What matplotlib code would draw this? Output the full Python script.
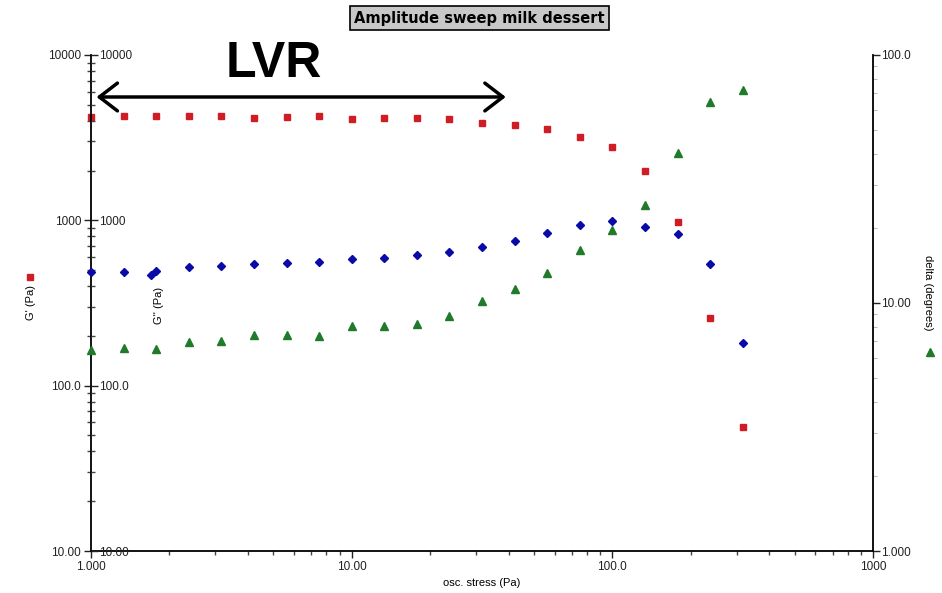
import matplotlib
matplotlib.use("Agg")
import matplotlib.pyplot as plt
from matplotlib.ticker import FuncFormatter, LogLocator, NullFormatter

plt.rcParams['font.family'] = ['Liberation Sans', 'DejaVu Sans']

# osc. stress (Pa)
stress = [1.000, 1.334, 1.778, 2.371, 3.162, 4.217, 5.623, 7.499, 10.00, 13.34, 17.78,
          23.71, 31.62, 42.17, 56.23, 74.99, 100.0, 133.4, 177.8, 237.1, 316.2]
# G' (Pa)
g_storage = [4236, 4295, 4295, 4295, 4295, 4140, 4236, 4295, 4083, 4140, 4140,
             4083, 3892, 3771, 3580, 3200, 2776, 1987, 977, 255, 56.4]
# G'' (Pa)
g_loss = [485, 489, 496, 520, 529, 546, 554, 562, 581, 592, 620,
          640, 694, 752, 841, 940, 986, 911, 826, 544, 181]
# delta (degrees)
delta = [6.46, 6.57, 6.53, 6.94, 7.03, 7.41, 7.41, 7.38, 8.08, 8.05, 8.22,
         8.86, 10.19, 11.37, 13.17, 16.31, 19.74, 24.8, 40.4, 64.8, 72.4]

RED = '#d01c24'
BLUE = '#0a0aa8'
GREEN = '#1f7a2a'
TICK_FS = 8.5


def four_digits(v, pos=None):
    if v < 9.999:
        return f"{v:.3f}"
    if v < 99.99:
        return f"{v:.2f}"
    if v < 999.9:
        return f"{v:.1f}"
    return f"{v:.0f}"


fig = plt.figure(figsize=(9.42, 5.93), dpi=100)
ax1 = fig.add_axes([0.0966, 0.0708, 0.8302, 0.8365])
ax2 = ax1.twinx()   # delta on the right
ax3 = ax1.twinx()   # G'' sharing the left spine

for ax in (ax1, ax2, ax3):
    ax.set_xscale('log')
    ax.set_yscale('log')
    ax.set_xlim(1, 1000)
    ax.spines['top'].set_visible(False)

ax1.set_ylim(10, 10000)
ax3.set_ylim(10, 10000)
ax2.set_ylim(1, 100)

ax1.spines['right'].set_visible(False)
ax3.spines['right'].set_position(('axes', 0))
ax3.spines['right'].set_visible(False)
ax3.spines['left'].set_visible(False)
ax3.spines['bottom'].set_visible(False)
ax2.spines['left'].set_visible(False)
ax2.spines['bottom'].set_visible(False)
for ax in (ax1, ax2):
    for s in ax.spines.values():
        s.set_linewidth(1.3)

ax1.plot(stress, g_storage, linestyle='none', marker='s', markersize=4.8,
         color=RED, clip_on=False)
ax3.plot(stress, g_loss, linestyle='none', marker='D', markersize=4.3,
         color=BLUE, clip_on=False)
ax2.plot(stress, delta, linestyle='none', marker='^', markersize=5.6,
         color=GREEN, clip_on=False)

fmt = FuncFormatter(four_digits)
for ax in (ax1, ax2, ax3):
    ax.yaxis.set_major_locator(LogLocator(base=10, numticks=10))
    ax.yaxis.set_minor_locator(LogLocator(base=10, subs=range(2, 10), numticks=10))
    ax.yaxis.set_major_formatter(fmt)
    ax.yaxis.set_minor_formatter(NullFormatter())
ax1.xaxis.set_major_formatter(fmt)
ax1.xaxis.set_minor_formatter(NullFormatter())
ax1.xaxis.set_minor_locator(LogLocator(base=10, subs=range(2, 10), numticks=10))
ax2.tick_params(axis='x', which='both', bottom=False, labelbottom=False)
ax3.tick_params(axis='x', which='both', bottom=False, labelbottom=False)

ax1.tick_params(axis='both', which='major', direction='out', length=5, width=1,
                labelsize=TICK_FS, pad=2, colors='#222222')
ax1.tick_params(axis='both', which='minor', direction='out', length=3, width=1,
                colors='#444444')
ax3.tick_params(axis='y', which='major', direction='out', length=5, width=1,
                labelsize=TICK_FS, pad=1, colors='#222222')
ax3.tick_params(axis='y', which='minor', direction='out', length=3, width=1,
                colors='#444444')
ax2.tick_params(axis='y', which='major', direction='out', length=5, width=1,
                labelsize=TICK_FS, pad=1, colors='#222222')
ax2.tick_params(axis='y', which='minor', direction='out', length=3, width=0.8,
                colors='#bbbbbb')

ax1.set_xlabel('osc. stress (Pa)', fontsize=8, labelpad=4)
ax1.set_ylabel("G' (Pa)", fontsize=8)
ax1.yaxis.set_label_coords(-0.07, 0.50)
ax3.set_ylabel("G'' (Pa)", fontsize=8, rotation=90)
ax3.yaxis.set_label_coords(0.08, 0.495)
ax2.set_ylabel('delta (degrees)', fontsize=8, rotation=270, va='center')
ax2.yaxis.set_label_coords(1.0703, 0.52)

# series keys next to the axis titles
ax1.plot([-0.078], [0.552], transform=ax1.transAxes, marker='s', markersize=4.8,
         color=RED, clip_on=False)
ax1.plot([0.0767], [0.556], transform=ax1.transAxes, marker='D', markersize=4.3,
         color=BLUE, clip_on=False)
ax1.plot([1.073], [0.401], transform=ax1.transAxes, marker='^', markersize=5.6,
         color=GREEN, clip_on=False)

# linear viscoelastic region
ax1.annotate('', xy=(1.05, 5570), xytext=(39, 5570),
             arrowprops=dict(arrowstyle='<->,head_length=0.65,head_width=0.5',
                             lw=2.5, color='black', mutation_scale=20,
                             shrinkA=0, shrinkB=0))
fig.text(0.291, 0.892, 'LVR', fontsize=36, fontweight='bold', ha='center', va='center')

fig.text(0.509, 0.9696, 'Amplitude sweep milk dessert', fontsize=10.5, fontweight='bold',
         family='DejaVu Sans', ha='center', va='center',
         bbox=dict(boxstyle='square,pad=0.3', facecolor='#c8c8c8', edgecolor='black',
                   linewidth=1.2))

fig.savefig('out.png', dpi=100)
